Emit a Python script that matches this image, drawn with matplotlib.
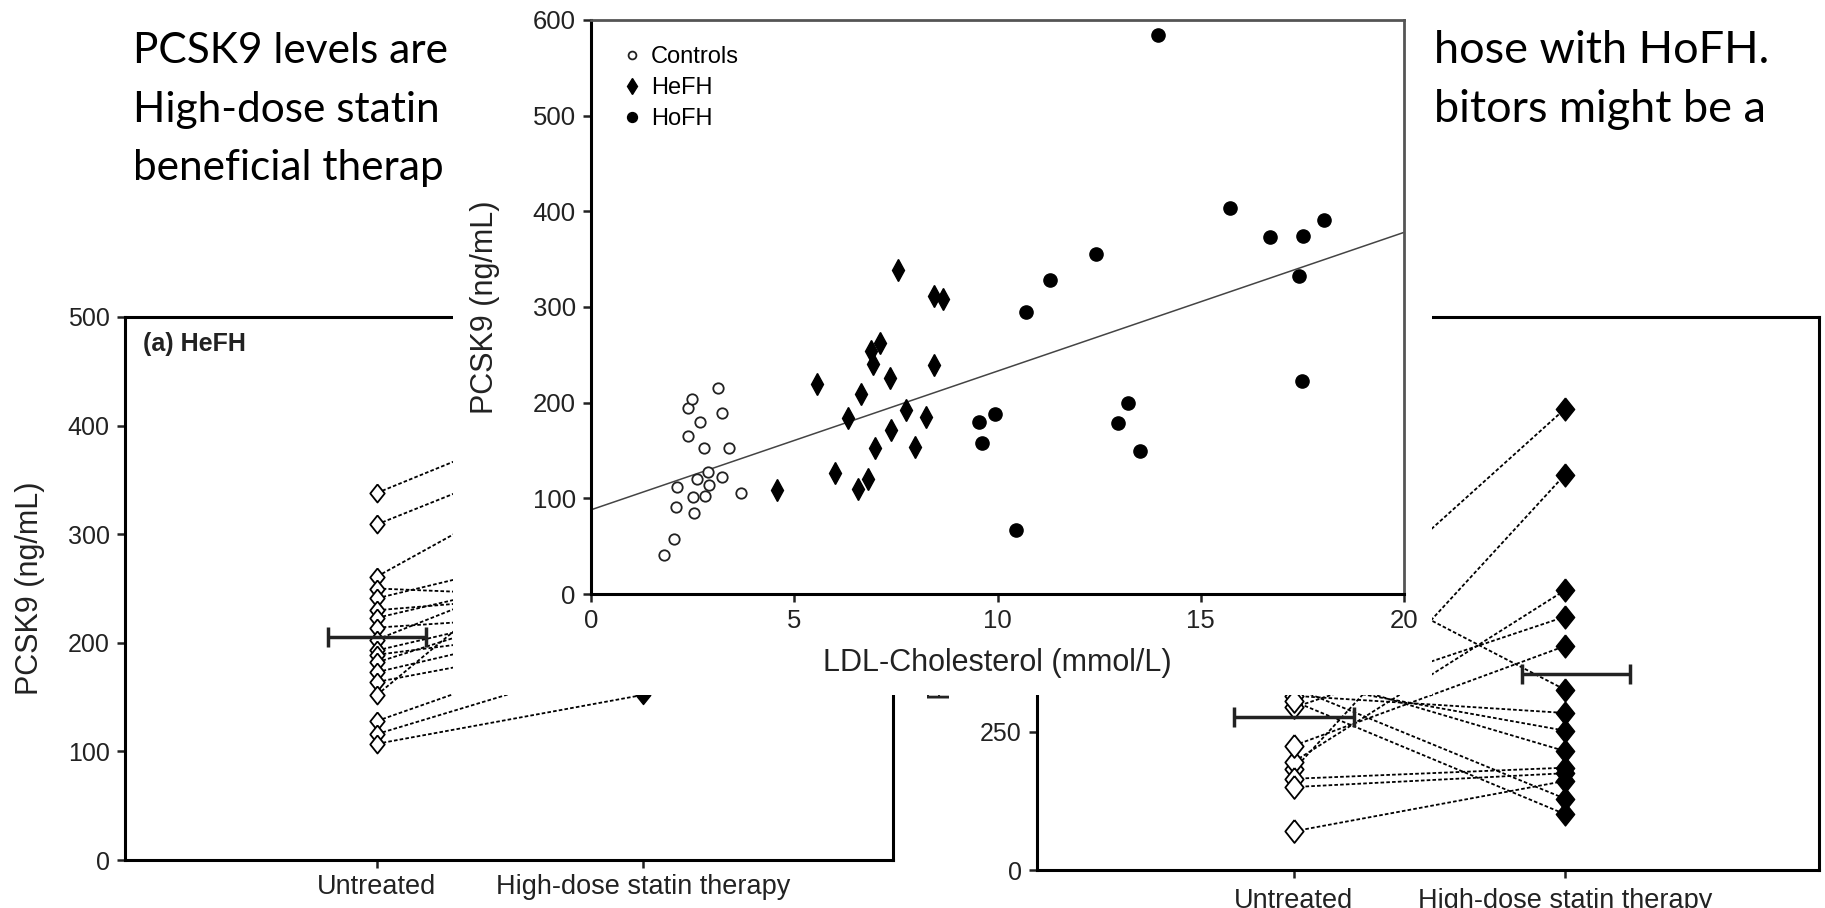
import matplotlib
matplotlib.use("Agg")
import matplotlib.pyplot as plt
from matplotlib.patches import Rectangle

W, H = 1825, 908
plt.rcParams['font.family'] = ['Liberation Sans', 'DejaVu Sans']

# slide text, only the parts that show around the inset picture
text_left = ["PCSK9 levels are", "High-dose statin", "beneficial therap"]
text_right = ["hose with HoFH.", "bitors might be a"]

# centre picture: LDL-C (mmol/L) against PCSK9 (ng/mL)
ctrl_ldl = [1.80, 2.03, 2.08, 2.12, 2.38, 2.38, 2.48, 2.50, 2.53, 2.60,
            2.68, 2.78, 2.80, 2.87, 2.90, 3.12, 3.22, 3.22, 3.40, 3.68]
ctrl_pcsk9 = [41, 57, 91, 112, 165, 194, 204, 101, 85, 120,
              180, 153, 102, 128, 114, 215, 189, 122, 153, 106]
hefh_ldl = [4.58, 5.55, 6.01, 6.31, 6.57, 6.65, 6.81, 6.90, 6.93, 6.99,
            7.11, 7.36, 7.37, 7.54, 7.74, 7.98, 8.24, 8.43, 8.45, 8.65]
hefh_pcsk9 = [109, 219, 127, 184, 110, 209, 120, 254, 240, 153,
              262, 226, 171, 339, 192, 154, 185, 312, 239, 308]
hofh_ldl = [9.54, 9.63, 9.94, 10.46, 10.70, 11.29, 12.42, 12.97, 13.20,
            13.51, 13.95, 15.71, 16.70, 17.42, 17.48, 17.52, 18.02]
hofh_pcsk9 = [180, 158, 188, 67, 295, 328, 355, 179, 200,
              150, 584, 403, 373, 332, 223, 374, 391]
fit_ldl = [0, 20]
fit_pcsk9 = [88, 378]

# panel (a) HeFH, paired before / after
groups = ["Untreated", "High-dose statin therapy"]
a_untreated = [338, 309, 261, 250, 241, 230, 223, 214, 203,
               193, 189, 182, 173, 164, 152, 128, 116, 107]
a_statin = [438, 407, 396, 240, 300, 250, 280, 230, 300,
            250, 220, 260, 230, 210, 355, 214, 190, 152]
a_mean_untreated = 205

# panel (b) HoFH, paired before / after
b_untreated = [393, 182, 196, 294, 225, 580, 315, 340, 360, 165, 150, 330, 70, 305]
b_statin = [834, 715, 506, 458, 405, 326, 284, 252, 215, 185, 175, 129, 161, 101]
b_means = [277, 354]

diamond = [(0, 1), (0.8, 0), (0, -1), (-0.8, 0), (0, 1)]


def px_rect(left, top, right, bottom):
    return [left / W, 1 - bottom / H, (right - left) / W, (bottom - top) / H]


def style(ax, size=18):
    for s in ax.spines.values():
        s.set_linewidth(2.2)
        s.set_color('k')
    ax.tick_params(direction='out', length=6, width=1.8, labelsize=size,
                   pad=5, colors='#222')
    ax.tick_params(top=False, right=False)


def paired(ax, before, after, ms):
    for b, a in zip(before, after):
        ax.plot([1, 2], [b, a], ls=(0, (2, 1.2)), color='k', lw=1.3, zorder=2)
    ax.plot([1] * len(before), before, ls='none', marker=diamond, ms=ms,
            mfc='white', mec='k', mew=1.3, zorder=3)
    ax.plot([2] * len(after), after, ls='none', marker=diamond, ms=ms,
            mfc='k', mec='k', zorder=3)


fig = plt.figure(figsize=(W / 100, H / 100), dpi=100)

for i, s in enumerate(text_left):
    fig.text(133 / W, 1 - (63 + 58.5 * i) / H, s, va='baseline',
             family='Lato', fontsize=30.5)
for i, s in enumerate(text_right):
    fig.text(1434 / W, 1 - (63 + 58.5 * i) / H, s, va='baseline',
             family='Lato', fontsize=32.5)

# panel (a)
ax_a = fig.add_axes(px_rect(125, 317, 893, 860))
style(ax_a)
paired(ax_a, a_untreated, a_statin, 13)
ax_a.errorbar([1], [a_mean_untreated], xerr=[0.184], color='#222', lw=2.5,
              capsize=7, capthick=2.5, zorder=4)
ax_a.set_xlim(0.053, 2.94)
ax_a.set_ylim(0, 500)
ax_a.set_yticks(range(0, 501, 100))
ax_a.set_xticks([1, 2])
ax_a.set_xticklabels(groups, fontsize=19.5)
ax_a.tick_params(axis='x', pad=4)
ax_a.set_ylabel("PCSK9 (ng/mL)", fontsize=22, color='#222')
ax_a.yaxis.set_label_coords(-0.104, 0.5)
ax_a.text(0.023, 0.95, "(a) HeFH", transform=ax_a.transAxes, fontsize=18,
          fontweight='bold', va='center', color='#222')

# panel (b)
ax_b = fig.add_axes(px_rect(1037, 317, 1819, 870))
style(ax_b)
paired(ax_b, b_untreated, b_statin, 16.5)
ax_b.errorbar([1, 2.04], b_means, xerr=[0.22, 0.2], ls='none', color='#222',
              lw=2.5, capsize=7, capthick=2.5, zorder=4)
ax_b.set_xlim(0.052, 2.937)
ax_b.set_ylim(0, 1000)
ax_b.set_yticks(range(0, 1001, 250))
ax_b.set_xticks([1, 2])
ax_b.set_xticklabels(groups, fontsize=19.5)
ax_b.tick_params(axis='x', pad=7)
ax_b.set_ylabel("PCSK9 (ng/mL)", fontsize=22, color='#222')
ax_b.yaxis.set_label_coords(-0.102, 0.5)
ax_b.text(0.023, 0.95, "(b) HoFH", transform=ax_b.transAxes, fontsize=18,
          fontweight='bold', va='center', color='#222')

# centre picture, laid over both panels
ax_c = fig.add_axes(px_rect(591, 20, 1404, 594))
ax_c.set_zorder(5)
ax_c.add_artist(Rectangle((453 / W, 1 - 695 / H), (1432 - 453) / W, 695 / H,
                          transform=fig.transFigure, fc='white', ec='none',
                          clip_on=False, zorder=-1))
style(ax_c, 18.5)
for side in ('top', 'right'):
    ax_c.spines[side].set_color('#555')
    ax_c.spines[side].set_linewidth(2)
ax_c.plot(fit_ldl, fit_pcsk9, color='#444', lw=1.1, zorder=2)
ax_c.plot(ctrl_ldl, ctrl_pcsk9, ls='none', marker='o', ms=7.5, mfc='white',
          mec='#222', mew=1.3, label='Controls', zorder=3)
ax_c.plot(hefh_ldl, hefh_pcsk9, ls='none', marker='d', ms=11, color='k',
          label='HeFH', zorder=3)
ax_c.plot(hofh_ldl, hofh_pcsk9, ls='none', marker='o', ms=9.5, color='k',
          label='HoFH', zorder=3)
ax_c.set_xlim(0, 20)
ax_c.set_ylim(0, 600)
ax_c.set_xticks(range(0, 21, 5))
ax_c.set_yticks(range(0, 601, 100))
ax_c.set_xlabel("LDL-Cholesterol (mmol/L)", fontsize=22, color='#222')
ax_c.xaxis.set_label_coords(0.5, -0.094)
ax_c.set_ylabel("PCSK9 (ng/mL)", fontsize=22, color='#222')
ax_c.yaxis.set_label_coords(-0.112, 0.5)
ax_c.legend(loc='upper left', bbox_to_anchor=(0.042, 0.955), frameon=False,
            fontsize=17, markerscale=0.75, handlelength=0.6, handletextpad=0.5,
            labelspacing=0.38, borderpad=0, borderaxespad=0)

fig.savefig("out.png", dpi=100)
